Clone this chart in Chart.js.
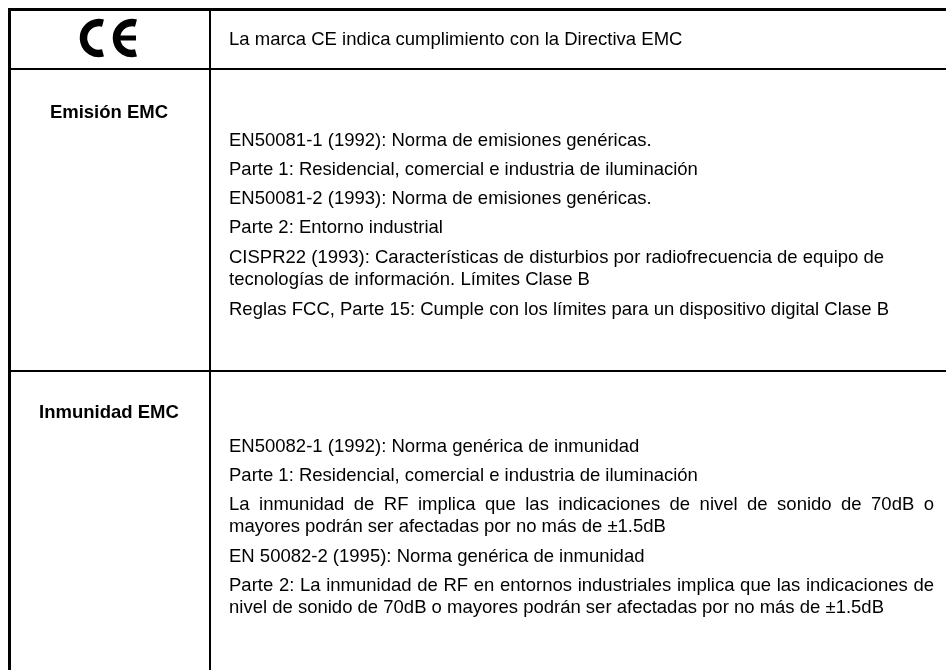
<!DOCTYPE html>
<html lang="es">
<head>
<meta charset="UTF-8">
<title>Marca CE</title>
<script src="https://cdn.jsdelivr.net/npm/chart.js"></script>
<style>
  html, body { margin: 0; padding: 0; background: #fff; }
  #wrap { width: 946px; height: 670px; }
</style>
</head>
<body>
<div id="wrap"><canvas id="tabla"></canvas></div>
<script>
// table rules, in the units of the page axes
const vRuleX = [9.5, 210];
const vRuleW = [3, 2];
const hRuleY = [9.5, 69, 371];
const hRuleW = [3, 2, 2];

const ceMark = { x: [80, 113], y: 38 };

const headTexts = ['Emisión EMC', 'Inmunidad EMC'];
const headX = [109, 109];
const headY = [118, 418];

const bodyTexts = [
  'La marca CE indica cumplimiento con la Directiva EMC',
  'EN50081-1 (1992): Norma de emisiones genéricas.',
  'Parte 1: Residencial, comercial e industria de iluminación',
  'EN50081-2 (1993): Norma de emisiones genéricas.',
  'Parte 2: Entorno industrial',
  'CISPR22 (1993): Características de disturbios por radiofrecuencia de equipo de',
  'tecnologías de información. Límites Clase B',
  'Reglas FCC, Parte 15: Cumple con los límites para un dispositivo digital Clase B',
  'EN50082-1 (1992): Norma genérica de inmunidad',
  'Parte 1: Residencial, comercial e industria de iluminación',
  'La inmunidad de RF implica que las indicaciones de nivel de sonido de 70dB o',
  'mayores podrán ser afectadas por no más de ±1.5dB',
  'EN 50082-2 (1995): Norma genérica de inmunidad',
  'Parte 2: La inmunidad de RF en entornos industriales implica que las indicaciones de',
  'nivel de sonido de 70dB o mayores podrán ser afectadas por no más de ±1.5dB'
];
const bodyY = [45, 146, 175, 204, 233, 263, 285, 315, 452, 481, 510, 532, 562, 591, 613];
const bodyJustified = [10, 13];
const bodyX = 229;
const bodyRight = 934;

const bottom = 670;
const right = 946;

const rules = [];
vRuleX.forEach((x, i) => rules.push({
  data: [{ x: x, y: hRuleY[0] - 1.5 }, { x: x, y: bottom }],
  borderWidth: vRuleW[i]
}));
hRuleY.forEach((y, i) => rules.push({
  data: [{ x: vRuleX[0] - 1.5, y: y }, { x: right, y: y }],
  borderWidth: hRuleW[i]
}));

const tableText = {
  id: 'tableText',
  afterDatasetsDraw(chart) {
    const c = chart.ctx, sx = chart.scales.x, sy = chart.scales.y;
    c.save();
    c.fillStyle = '#000';
    c.textBaseline = 'alphabetic';

    c.font = 'bold 18.5px "Liberation Sans"';
    c.textAlign = 'center';
    headTexts.forEach((t, i) => c.fillText(t, sx.getPixelForValue(headX[i]), sy.getPixelForValue(headY[i])));

    c.font = '18.5px "Liberation Sans"';
    c.textAlign = 'left';
    bodyTexts.forEach((t, i) => {
      let extra = 0;
      if (bodyJustified.includes(i)) {
        const gaps = t.split(' ').length - 1;
        extra = (sx.getPixelForValue(bodyRight) - sx.getPixelForValue(bodyX) - c.measureText(t).width) / gaps;
      }
      c.wordSpacing = extra + 'px';
      c.fillText(t, sx.getPixelForValue(bodyX), sy.getPixelForValue(bodyY[i]));
    });
    c.wordSpacing = '0px';

    // CE logo: two open rings, the second with a middle bar
    const r = 15.5;
    c.strokeStyle = '#000';
    ceMark.x.forEach((x, i) => {
      const px = sx.getPixelForValue(x) + r + 3.5, py = sy.getPixelForValue(ceMark.y);
      c.lineWidth = 7.5;
      c.beginPath();
      c.arc(px, py, r, Math.PI / 2 - 0.26, 3 * Math.PI / 2 + 0.26, false);
      c.stroke();
      if (i === 1) {
        c.lineWidth = 5;
        c.beginPath();
        c.moveTo(px - r, py);
        c.lineTo(px + 4, py);
        c.stroke();
      }
    });
    c.restore();
  }
};

new Chart(document.getElementById('tabla'), {
  type: 'line',
  data: {
    datasets: rules.map(r => ({
      data: r.data,
      borderColor: '#000',
      borderWidth: r.borderWidth,
      pointRadius: 0,
      fill: false
    }))
  },
  options: {
    responsive: true,
    maintainAspectRatio: false,
    animation: false,
    parsing: false,
    layout: { padding: 0 },
    plugins: { legend: { display: false }, tooltip: { enabled: false } },
    scales: {
      x: { type: 'linear', min: 0, max: right, display: false },
      y: { type: 'linear', min: 0, max: bottom, reverse: true, display: false }
    }
  },
  plugins: [tableText]
});
</script>
</body>
</html>
